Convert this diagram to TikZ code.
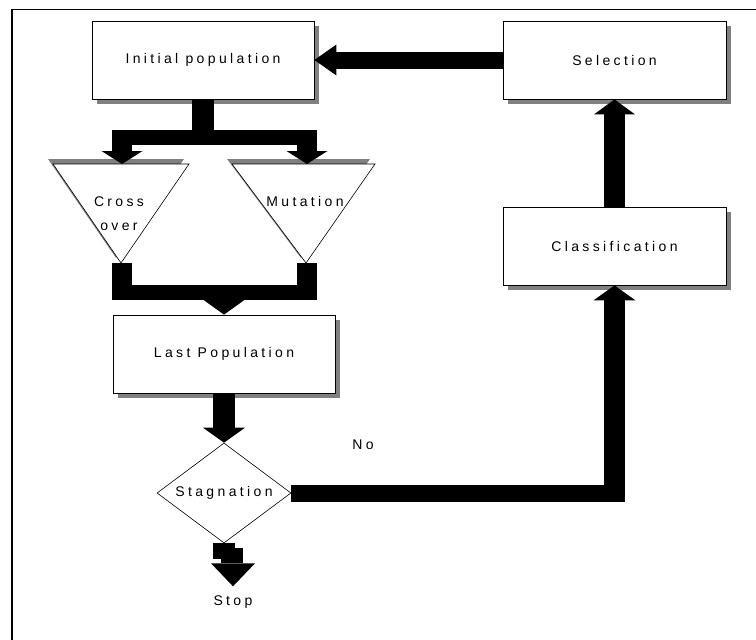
\documentclass[tikz,border=0pt]{standalone}
\usepackage{fontspec}
\setmainfont{Liberation Sans}[LetterSpace=24]
\usetikzlibrary{calc,shapes.geometric,shadows,arrows.meta}

\newcommand\flowfont{\fontsize{14pt}{16pt}\selectfont}

\tikzset{
  box/.style={draw, line width=0.8pt, fill=white, minimum width=222pt,
    minimum height=78pt, inner sep=0pt, font=\flowfont,
    drop shadow={shadow xshift=5pt, shadow yshift=-5pt, fill=gray, opacity=1}},
  tri/.style={draw, line width=0.6pt, fill=white},
  trishade/.style={fill=gray},
  bighead/.style 2 args={-{Triangle[width=#1pt,length=#2pt,line width=0pt]}},
  txt/.style={font=\flowfont, inner sep=0pt}
}

\begin{document}
\begin{tikzpicture}[x=1pt,y=-1pt]
\useasboundingbox (0,0) rectangle (756,640);
% frame
\draw[line width=2pt] (12,640) -- (12,9);
\draw[line width=0.8pt] (12,9) -- (756,9);

% boxes
\node[box] (init) at (203,60) {Initial population};
\node[box, minimum width=223pt] (select) at (614.5,60) {Selection};
\node[box, minimum width=223pt] (classif) at (614.5,246) {Classification};
\node[box] (last) at (224,354) {Last Population};

% decision
\node[diamond, draw, line width=0.6pt, minimum width=134pt, minimum height=100pt, inner sep=0pt] (stag) at (224,493) {};
\node[txt] (stagtxt) at (stag.center) {Stagnation};
\node[txt] (no) at (363,445) {No};
\node[txt] (stop) at (233,602) {Stop};

% operators
\coordinate (cxl) at (53,164); \coordinate (cxr) at (189,164); \coordinate (cxb) at (121,263);
\coordinate (mul) at (232,164); \coordinate (mur) at (375,164); \coordinate (mub) at (306,263);
\fill[trishade] ([shift={(-5,-5)}]cxl) -- ([shift={(-5,-5)}]cxr) -- ([shift={(-5,-5)}]cxb) -- cycle;
\draw[tri] (cxl) -- (cxr) -- (cxb) -- cycle;
\fill[trishade] ([shift={(-5,-5)}]mul) -- ([shift={(-5,-5)}]mur) -- ([shift={(-5,-5)}]mub) -- cycle;
\draw[tri] (mul) -- (mur) -- (mub) -- cycle;
\node[txt, align=center] (cross) at (119,214) {Cross\\[8pt]over};
\node[txt] (mut) at (305,201) {Mutation};

% split
\coordinate (splitL) at (122,137.5);
\coordinate (splitR) at (307,137.5);
\draw[line width=22pt] (init.south) -- ($(init.south)+(0,46)$);
\draw[line width=15pt] ($(splitL)+(-10,0)$) -- ($(splitR)+(10,0)$);
\draw[line width=20pt, bighead={41}{13}] (splitL) -- (splitL |- cxl);
\draw[line width=20pt, bighead={41}{13}] (splitR) -- (splitR |- mul);

% merge
\coordinate (mergeL) at (122,292.5);
\coordinate (mergeR) at (307,292.5);
\draw[line width=20pt] (cxb -| mergeL) -- ($(mergeL)+(0,7.5)$);
\draw[line width=20pt] (mub -| mergeR) -- ($(mergeR)+(0,7.5)$);
\draw[line width=15pt] ($(mergeL)+(-10,0)$) -- ($(mergeR)+(10,0)$);
\fill ($(last.north)+(-21,-15)$) -- ($(last.north)+(21,-15)$) -- (last.north) -- cycle;

% loop
\draw[line width=22pt, bighead={42}{15}] (last.south) -- (stag.north);
\coordinate (turn) at (614.5,493);
\draw[line width=17pt] (stag.east) -- ($(turn)+(10.5,0)$);
\draw[line width=21pt, bighead={42}{15}] ($(turn)+(0,8.5)$) -- (classif.south);
\draw[line width=21pt, bighead={41}{15}] (classif.north) -- (select.south);
\draw[line width=17pt, bighead={31}{22}] (select.west) -- (init.east);

% stop
\fill ($(stag.south)+(-11,0)$) rectangle ($(stag.south)+(11,16)$);
\fill ($(stag.south)+(-3,5)$) rectangle ($(stag.south)+(19,20)$);
\fill ($(stag.south)+(-13,20)$) -- ($(stag.south)+(31,20)$) -- ($(stag.south)+(9,43)$) -- cycle;
\end{tikzpicture}
\end{document}
